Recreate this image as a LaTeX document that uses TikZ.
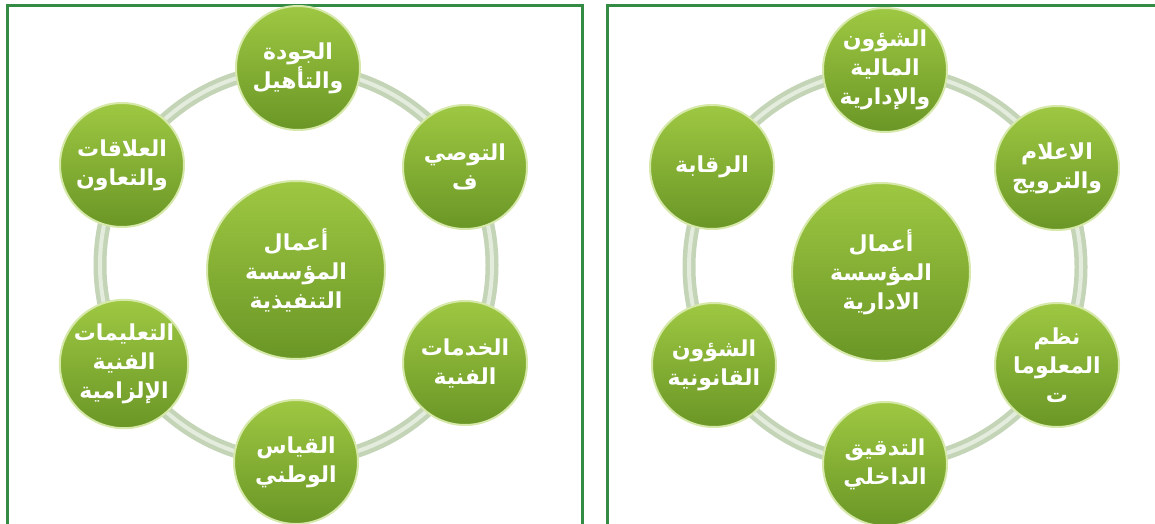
\documentclass[tikz,border=0pt]{standalone}
\usepackage{fontspec}
\newfontfamily\arabicfont[Script=Arabic]{DejaVu Sans}
\TeXXeTstate=1
\usepackage{xcolor}
\definecolor{framegreen}{RGB}{52,140,68}
\definecolor{balltop}{RGB}{158,200,66}
\definecolor{ballbot}{RGB}{106,150,38}
\definecolor{ballrim}{RGB}{214,232,170}
\definecolor{ringgray}{RGB}{196,212,182}
\newcommand{\ar}[1]{\beginR #1\endR}

\tikzset{
  ball/.style={circle, minimum size=62pt, inner sep=0pt, top color=balltop, bottom color=ballbot,
    draw=ballrim, line width=1pt, text=white, align=center,
    font=\arabicfont\bfseries\fontsize{11}{14.5}\selectfont},
  bigball/.style={ball, minimum size=89pt},
  ring/.style={ringgray, line width=6.5pt},
  ringshine/.style={white!55!ringgray, line width=2pt},
  panel/.style={framegreen, line width=1.5pt}
}

\begin{document}
\begin{tikzpicture}[x=0.5pt,y=-0.5pt]
    \useasboundingbox (0,0) rectangle (1155,524);
    \clip (0,0) rectangle (1155,524);
    \draw[panel] (7,540) -- (7,6) -- (582,6) -- (582,540);
    \draw[panel] (607,540) -- (607,6) -- (1170,6);

    % left cycle
    \draw[ring] (296,265) circle[radius=98pt];
    \draw[ringshine] (296,265) circle[radius=98pt];
    \node[bigball] (lcenter) at (296,270) {\ar{أعمال}\\\ar{المؤسسة}\\\ar{التنفيذية}};
    \node[ball] (ltop) at (298,68) {\ar{الجودة}\\\ar{والتأهيل}};
    \node[ball] (lur) at (465,167) {\ar{التوصي}\\\ar{ف}};
    \node[ball] (llr) at (465,363) {\ar{الخدمات}\\\ar{الفنية}};
    \node[ball] (lbot) at (296,462) {\ar{القياس}\\\ar{الوطني}};
    \node[ball] (lll) at (124,364) {\ar{التعليمات}\\\ar{الفنية}\\\ar{الإلزامية}};
    \node[ball] (lul) at (122,165) {\ar{العلاقات}\\\ar{والتعاون}};

    % right cycle
    \draw[ring] (885,267) circle[radius=98pt];
    \draw[ringshine] (885,267) circle[radius=98pt];
    \node[bigball] (rcenter) at (881,272) {\ar{أعمال}\\\ar{المؤسسة}\\\ar{الادارية}};
    \node[ball] (rtop) at (885,70) {\ar{الشؤون}\\\ar{المالية}\\\ar{والإدارية}};
    \node[ball] (rur) at (1057,168) {\ar{الاعلام}\\\ar{والترويج}};
    \node[ball] (rlr) at (1057,365) {\ar{نظم}\\\ar{المعلوما}\\\ar{ت}};
    \node[ball] (rbot) at (885,464) {\ar{التدقيق}\\\ar{الداخلي}};
    \node[ball] (rll) at (714,365) {\ar{الشؤون}\\\ar{القانونية}};
    \node[ball] (rul) at (712,167) {\ar{الرقابة}};
\end{tikzpicture}
\end{document}
